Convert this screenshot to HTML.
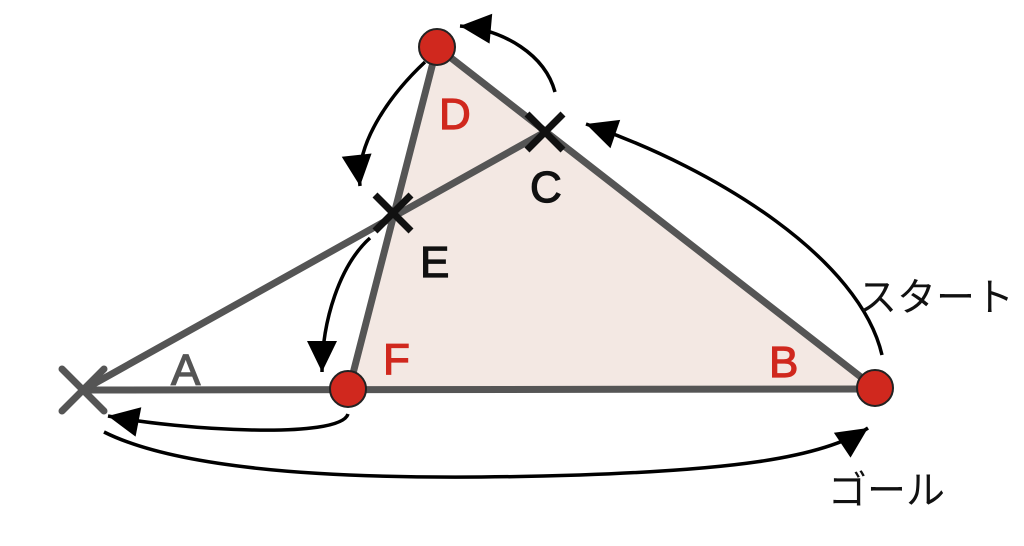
<!DOCTYPE html>
<html><head><style>body{margin:0;background:#fff}svg{display:block}</style></head>
<body>
<svg width="1024" height="546" viewBox="0 0 1024 546" xmlns="http://www.w3.org/2000/svg">
<defs>
<marker id="ah" viewBox="0 0 10 10" refX="9" refY="5" markerWidth="10" markerHeight="10" markerUnits="userSpaceOnUse" orient="auto" style="overflow:visible">
<path d="M-22,-10 L9,5 L-22,20 Z" fill="#000"/>
</marker>
</defs>
<polygon points="437,47 875,388 349,389" fill="#f3e8e3"/>
<g stroke="#555" stroke-width="7" stroke-linecap="round" fill="none">
<line x1="437" y1="47" x2="875" y2="388"/>
<line x1="437" y1="47" x2="349" y2="389"/>
<line x1="83" y1="390" x2="875" y2="389"/>
<line x1="83" y1="390" x2="545" y2="132"/>
<line x1="62" y1="369" x2="104" y2="411"/>
<line x1="62" y1="411" x2="104" y2="369"/>
</g>
<g stroke="#111" stroke-width="7" stroke-linecap="butt">
<line x1="527" y1="114" x2="563" y2="150"/><line x1="527" y1="150" x2="563" y2="114"/>
<line x1="375" y1="195" x2="411" y2="231"/><line x1="375" y1="231" x2="411" y2="195"/>
</g>
<g fill="#d0281e" stroke="#222" stroke-width="2">
<circle cx="437" cy="47" r="18"/><circle cx="875" cy="388" r="18"/><circle cx="348" cy="389" r="18"/>
</g>
<g fill="none" stroke="#000" stroke-width="3.5" marker-end="url(#ah)">
<path d="M882,355 C860,260 720,170 586,124"/>
<path d="M555,92 C545,55 505,30 460,26"/>
<path d="M425,62 C395,90 355,140 360,186"/>
<path d="M370,238 C340,265 322,320 322,372"/>
<path d="M348,414 C340,440 180,430 108,416"/>
<path d="M104,432 C200,480 420,480 580,475 C720,470 820,460 868,428"/>
</g>
<g font-family="Liberation Sans, sans-serif" font-size="44" stroke-width="1.2">
<text x="439" y="129" fill="#d0281e" stroke="#d0281e">D</text>
<text x="530" y="202" fill="#111" stroke="#111">C</text>
<text x="420" y="277" fill="#111" stroke="#111">E</text>
<text x="383" y="374" fill="#d0281e" stroke="#d0281e">F</text>
<text x="769" y="377" fill="#d0281e" stroke="#d0281e">B</text>
<text x="171" y="385" fill="#555" stroke="#555">A</text>
</g>
<g font-family="Liberation Sans, 'Noto Sans CJK JP', sans-serif" font-size="39" fill="#111">
<text x="858" y="311">スタート</text>
<text x="828" y="504">ゴール</text>
</g>
</svg>
</body></html>
